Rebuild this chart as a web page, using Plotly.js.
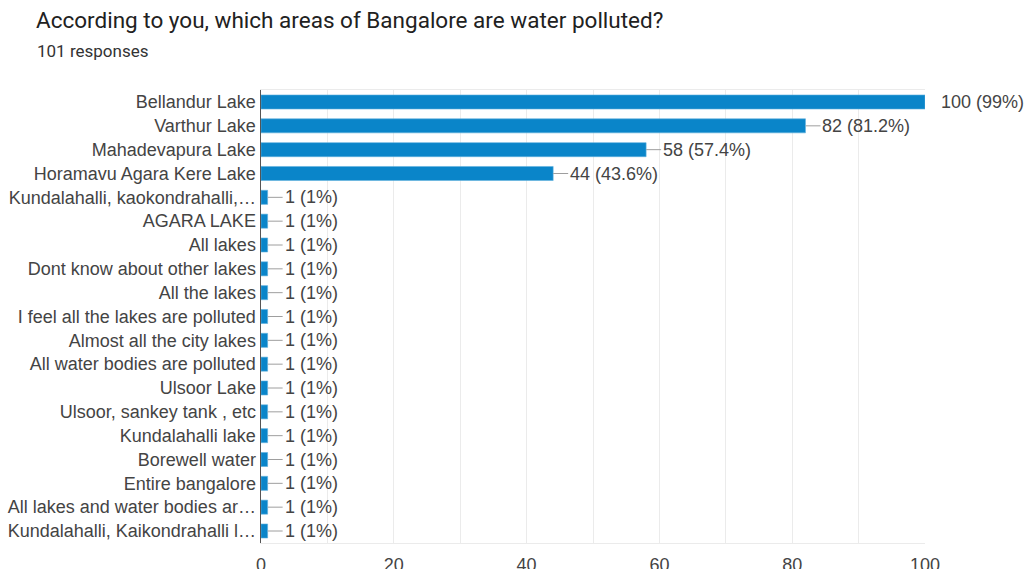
<!DOCTYPE html>
<html>
<head>
<meta charset="utf-8">
<script src="https://cdn.plot.ly/plotly-3.0.1.min.js"></script>
<style>
  html, body { margin: 0; padding: 0; background: #fff; }
  #chart { width: 1025px; height: 569px; }
</style>
</head>
<body>
<div id="chart"></div>
<script>
// Survey answers, top to bottom
const categories = [
  "Bellandur Lake",
  "Varthur Lake",
  "Mahadevapura Lake",
  "Horamavu Agara Kere Lake",
  "Kundalahalli, kaokondrahalli,\u2026",
  "AGARA LAKE",
  "All lakes",
  "Dont know about other lakes",
  "All the lakes",
  "I feel all the lakes are polluted",
  "Almost all the city lakes",
  "All water bodies are polluted",
  "Ulsoor Lake",
  "Ulsoor, sankey tank , etc",
  "Kundalahalli lake",
  "Borewell water",
  "Entire bangalore",
  "All lakes and water bodies ar\u2026",
  "Kundalahalli, Kaikondrahalli l\u2026"
];
const counts = [100, 82, 58, 44, 1, 1, 1, 1, 1, 1, 1, 1, 1, 1, 1, 1, 1, 1, 1];
const percents = ["99%", "81.2%", "57.4%", "43.6%", "1%", "1%", "1%", "1%", "1%", "1%",
                  "1%", "1%", "1%", "1%", "1%", "1%", "1%", "1%", "1%"];
const xTicks = [0, 20, 40, 60, 80, 100];

const X_MAX = 100;
const labelFont = { family: "Liberation Sans, Arial, sans-serif", size: 18, color: "#444444" };

const trace = {
  type: "bar",
  orientation: "h",
  x: counts,
  y: categories,
  marker: { color: "#0a85c9", line: { color: "#5fb0de", width: 0.6 } },
  hoverinfo: "skip"
};

// value labels with a short leader line from the bar end
const annotations = counts.map((v, i) => ({
  x: v,
  y: categories[i],
  xref: "x",
  yref: "y",
  text: v + " (" + percents[i] + ")",
  font: labelFont,
  xanchor: "left",
  yanchor: "middle",
  showarrow: v < X_MAX,
  arrowhead: 0,
  arrowwidth: 1,
  arrowcolor: "#9e9e9e",
  ax: 15,
  ay: 0,
  xshift: v < X_MAX ? 0 : 14
}));

annotations.push({
  xref: "paper", yref: "paper",
  x: (35 - 261) / 664, y: (543 - 51) / 453,
  xanchor: "left", yanchor: "middle",
  text: "101 responses",
  showarrow: false,
  font: { family: "Roboto, sans-serif", size: 17, color: "#333333" }
});

const layout = {
  width: 1025,
  height: 569,
  margin: { l: 261, r: 100, t: 90, b: 26, pad: 0 },
  paper_bgcolor: "#ffffff",
  plot_bgcolor: "#ffffff",
  bargap: 0.41,
  showlegend: false,
  title: {
    text: "According to you, which areas of Bangalore are water polluted?",
    xref: "container", yref: "container",
    x: 36 / 1025, y: 1 - 20 / 569,
    xanchor: "left", yanchor: "middle",
    font: { family: "Roboto, sans-serif", size: 22.5, color: "#212121" }
  },
  xaxis: {
    range: [0, X_MAX],
    tickvals: xTicks,
    ticktext: xTicks.map(String),
    ticks: "outside",
    ticklen: 5,
    tickcolor: "rgba(0,0,0,0)",
    tickfont: labelFont,
    showgrid: true,
    gridcolor: "#ebebeb",
    gridwidth: 1,
    minor: { dtick: 10, tick0: 0, showgrid: true, gridcolor: "#ebebeb", gridwidth: 1 },
    zeroline: false,
    showline: true,
    linecolor: "#ebebeb",
    linewidth: 1,
    mirror: true,
    fixedrange: true
  },
  yaxis: {
    autorange: "reversed",
    ticks: "",
    ticklabelstandoff: 0,
    tickfont: labelFont,
    showgrid: false,
    zeroline: false,
    showline: true,
    linecolor: "#555555",
    linewidth: 1.5,
    fixedrange: true
  },
  annotations: annotations
};

Plotly.newPlot("chart", [trace], layout, { displayModeBar: false, staticPlot: true });
</script>
</body>
</html>
